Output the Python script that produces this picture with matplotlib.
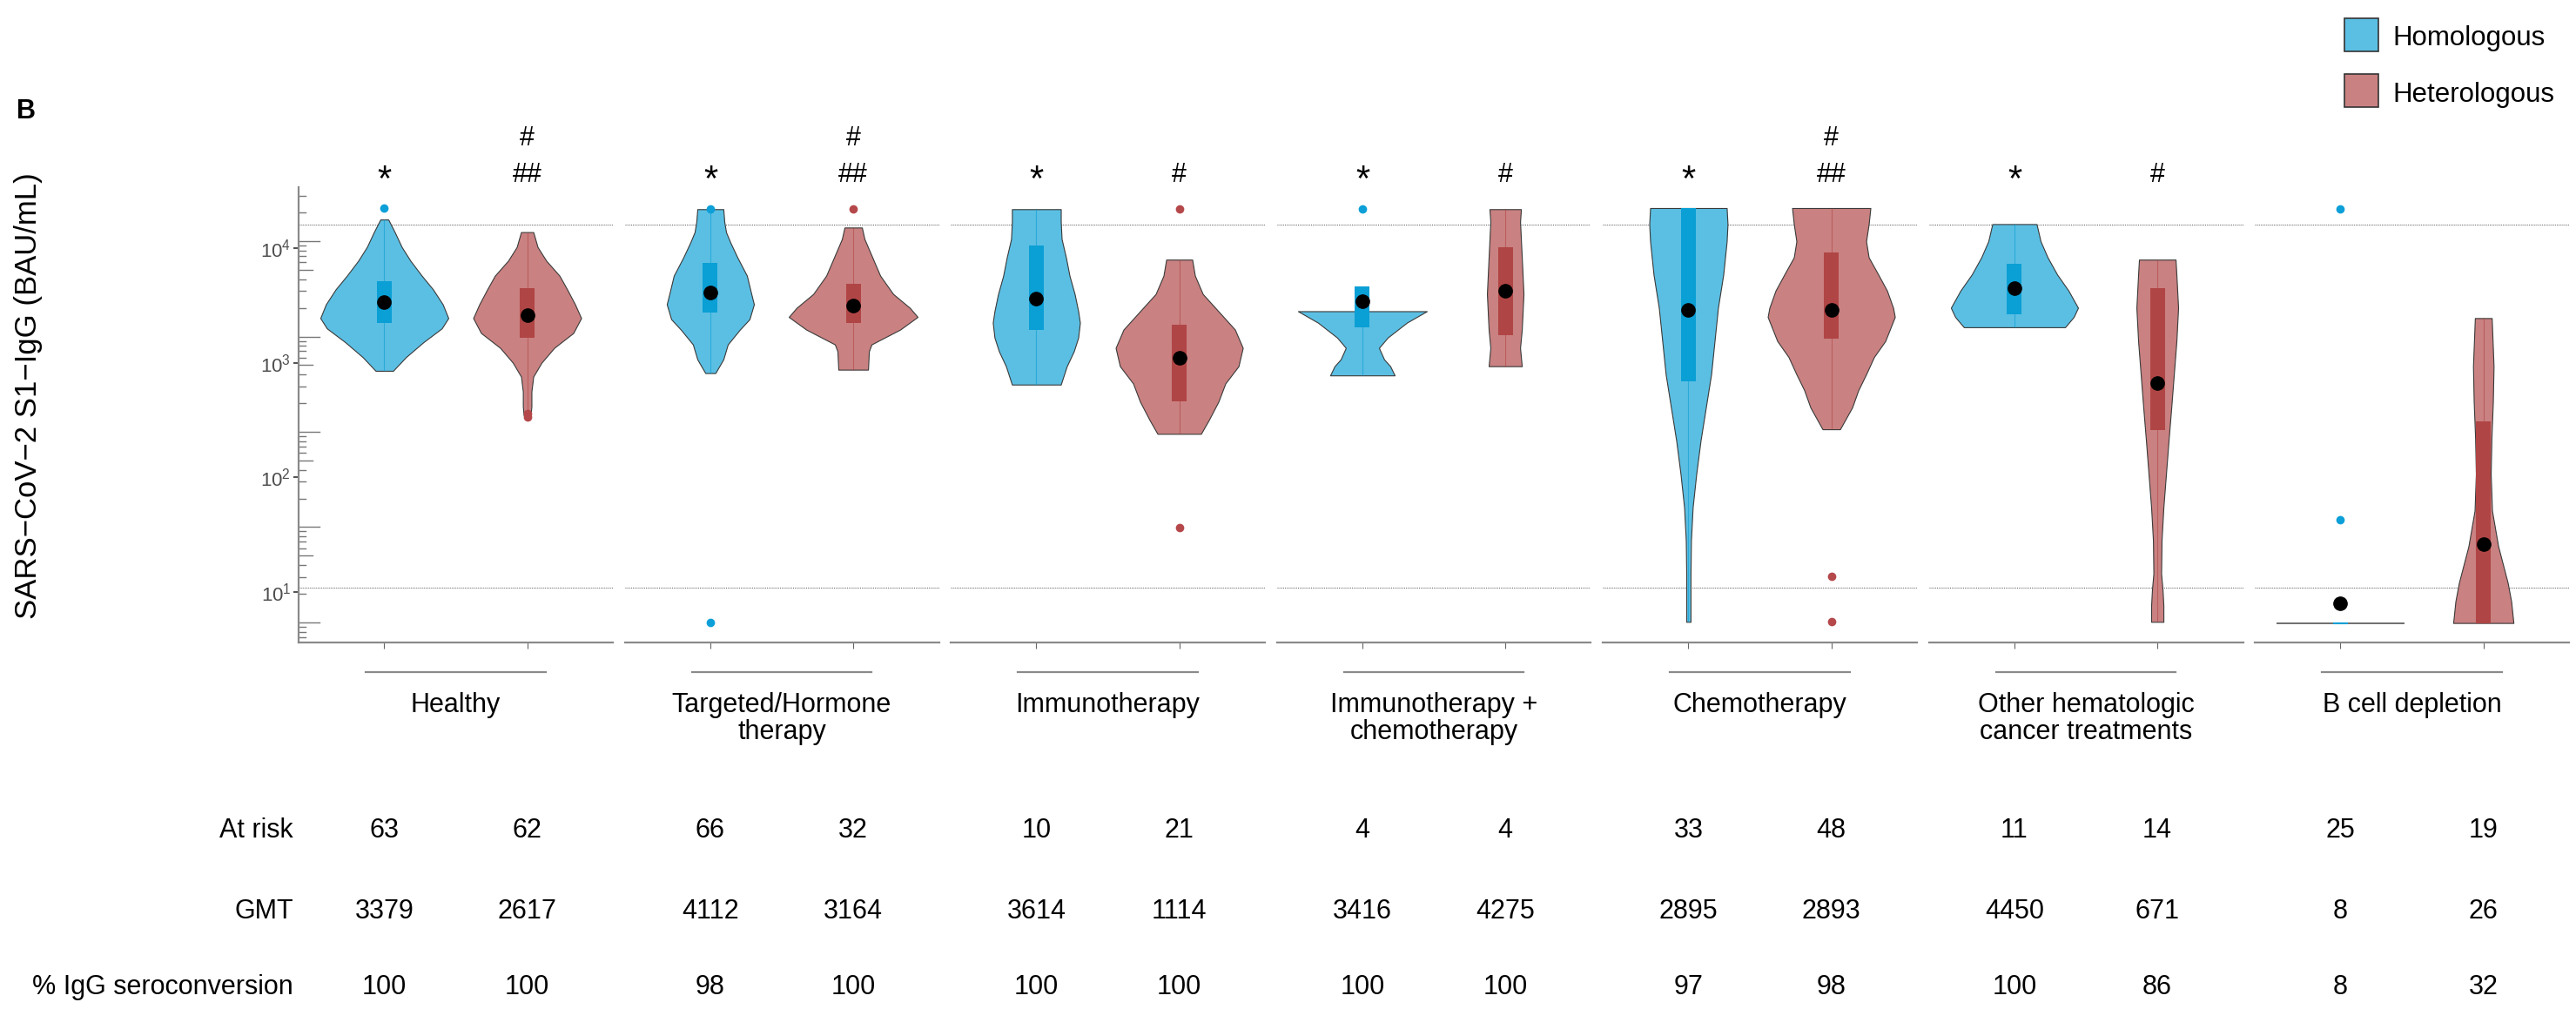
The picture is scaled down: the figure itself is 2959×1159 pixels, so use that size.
import matplotlib.pyplot as plt
import numpy as np
from matplotlib.patches import Rectangle
from matplotlib.transforms import blended_transform_factory

plt.rcParams['font.family'] = ['Liberation Sans', 'DejaVu Sans']

# ---- data ----
groups = ['Healthy', 'Targeted/Hormone\ntherapy', 'Immunotherapy',
          'Immunotherapy +\nchemotherapy', 'Chemotherapy',
          'Other hematologic\ncancer treatments', 'B cell depletion']

at_risk_homo = [63, 66, 10, 4, 33, 11, 25]
at_risk_hetero = [62, 32, 21, 4, 48, 14, 19]
gmt_homo = [3379, 4112, 3614, 3416, 2895, 4450, 8]
gmt_hetero = [2617, 3164, 1114, 4275, 2893, 671, 26]
sero_homo = [100, 98, 100, 100, 97, 100, 8]
sero_hetero = [100, 100, 100, 100, 98, 86, 32]

sig_homo = ['*', '*', '*', '*', '*', '*', '']
sig_hetero_low = ['##', '##', '#', '#', '##', '#', '']
sig_hetero_high = ['#', '#', '', '', '#', '', '']

# violin outlines: log10(BAU/mL) levels and half widths (x units)
homo_levels = [
    [4.25, 4.14, 4.01, 3.89, 3.76, 3.64, 3.51, 3.39, 3.30, 3.18, 3.05, 2.93],
    [4.34, 4.23, 4.14, 4.05, 3.92, 3.76, 3.60, 3.51, 3.38, 3.29, 3.16, 3.03, 2.91],
    [4.34, 4.23, 4.08, 3.92, 3.76, 3.60, 3.45, 3.35, 3.22, 3.10, 2.97, 2.81],
    [3.45, 3.35, 3.22, 3.13, 3.03, 2.97, 2.89],
    [4.35, 4.21, 4.06, 3.77, 3.48, 3.19, 2.90, 2.61, 2.32, 2.03, 1.74, 1.45, 1.16, 0.74],
    [4.21, 4.06, 3.92, 3.77, 3.63, 3.48, 3.40, 3.31],
    [0.73],
]
homo_widths = [
    [0.028, 0.073, 0.122, 0.183, 0.262, 0.341, 0.409, 0.448, 0.402, 0.274, 0.152, 0.061],
    [0.091, 0.098, 0.110, 0.140, 0.189, 0.256, 0.287, 0.305, 0.274, 0.207, 0.122, 0.091, 0.035],
    [0.171, 0.171, 0.177, 0.207, 0.232, 0.268, 0.293, 0.305, 0.293, 0.262, 0.213, 0.171],
    [0.451, 0.311, 0.177, 0.116, 0.152, 0.195, 0.226],
    [0.268, 0.274, 0.268, 0.244, 0.207, 0.183, 0.159, 0.122, 0.085, 0.055, 0.030, 0.018, 0.015, 0.015],
    [0.155, 0.183, 0.232, 0.299, 0.378, 0.445, 0.415, 0.354],
    [0.449],
]
hetero_levels = [
    [4.14, 4.01, 3.89, 3.76, 3.64, 3.51, 3.39, 3.26, 3.13, 3.00, 2.88, 2.75, 2.62, 2.54],
    [4.18, 4.08, 3.92, 3.76, 3.60, 3.48, 3.40, 3.29, 3.16, 3.10, 2.94],
    [3.90, 3.76, 3.60, 3.45, 3.29, 3.13, 2.97, 2.82, 2.66, 2.50, 2.38],
    [4.34, 4.23, 3.92, 3.60, 3.29, 3.13, 2.97],
    [4.35, 4.21, 4.06, 3.92, 3.77, 3.63, 3.48, 3.40, 3.19, 3.05, 2.90, 2.76, 2.61, 2.42],
    [3.90, 3.77, 3.48, 3.19, 2.90, 2.61, 2.32, 2.03, 1.74, 1.45, 1.16, 1.02, 0.88, 0.74],
    [3.39, 2.97, 2.66, 2.34, 2.03, 1.71, 1.40, 1.08, 0.92, 0.73],
]
hetero_widths = [
    [0.043, 0.073, 0.134, 0.226, 0.280, 0.335, 0.378, 0.323, 0.189, 0.100, 0.043, 0.030, 0.030, 0.024],
    [0.061, 0.079, 0.134, 0.189, 0.280, 0.396, 0.451, 0.329, 0.128, 0.110, 0.104],
    [0.091, 0.110, 0.165, 0.274, 0.390, 0.445, 0.415, 0.323, 0.274, 0.207, 0.152],
    [0.110, 0.104, 0.116, 0.128, 0.116, 0.104, 0.116],
    [0.274, 0.262, 0.244, 0.262, 0.329, 0.390, 0.433, 0.445, 0.378, 0.299, 0.244, 0.189, 0.146, 0.061],
    [0.128, 0.134, 0.146, 0.134, 0.116, 0.098, 0.079, 0.061, 0.043, 0.030, 0.027, 0.037, 0.043, 0.043],
    [0.059, 0.072, 0.067, 0.057, 0.052, 0.061, 0.104, 0.171, 0.195, 0.211],
]

# interquartile boxes (log10)
q1_homo = [3.35, 3.44, 3.29, 3.31, 2.84, 3.42, 0.73]
q3_homo = [3.71, 3.87, 4.02, 3.67, 4.35, 3.86, 0.73]
q1_hetero = [3.22, 3.35, 2.66, 3.24, 3.21, 2.41, 0.73]
q3_hetero = [3.65, 3.69, 3.33, 4.01, 3.96, 3.65, 2.49]

# outlying points (log10)
out_homo = [[4.35], [4.34, 0.735], [], [4.34], [], [], [4.34, 1.63]]
out_hetero = [[2.56, 2.53], [4.34], [4.34, 1.56], [], [1.14, 0.74], [], []]

upper_limit = 16000
lower_limit = 11

blue_fill, blue_box, blue_pt = '#5BBFE3', '#0A9FD5', '#0C9FD8'
red_fill, red_box, red_pt = '#CA8181', '#B04545', '#B5484A'

W, H = 2959, 1159
fig = plt.figure(figsize=(W / 100, H / 100), dpi=100)


def violin(ax, x, levels, widths, fill, box, pt, q1, q3, gmt, outs):
    lv = 10 ** np.array(levels)
    wd = np.array(widths)
    if len(levels) == 1:
        ax.hlines(lv[0], x - wd[0], x + wd[0], color='#555555', lw=1.2, zorder=2)
        ax.hlines(lv[0], x - 0.052, x + 0.052, color=box, lw=1.5, zorder=3)
    else:
        ax.fill_betweenx(lv, x - wd, x + wd, facecolor=fill, edgecolor='#3a3a3a',
                         lw=0.8, zorder=2)
        lo = min(levels[-1], q1)
        hi = max(levels[0], q3)
        ax.vlines(x, 10 ** lo, 10 ** hi, color=box, lw=0.8, alpha=0.6, zorder=3)
        ax.bar(x, 10 ** q3 - 10 ** q1, bottom=10 ** q1, width=0.104, color=box,
               zorder=3)
    for o in outs:
        ax.plot(x, 10 ** o, 'o', color=pt, ms=7, mec='none', zorder=4)
    ax.plot(x, gmt, 'o', color='black', ms=11, zorder=5)


axes = []
for i in range(7):
    left = (343 + i * 374.5) / W
    ax = fig.add_axes([left, (H - 738) / H, 361 / W, 523 / H])
    axes.append(ax)
    ax.set_yscale('log')
    ax.set_ylim(10 ** 0.56, 10 ** 4.532)
    ax.set_xlim(0.4, 2.6)
    for s in ['top', 'right']:
        ax.spines[s].set_visible(False)
    ax.spines['bottom'].set_color('#8a8a8a')
    ax.spines['bottom'].set_linewidth(1.6)
    ax.spines['left'].set_color('#8a8a8a')
    ax.spines['left'].set_linewidth(1.6)
    ax.set_xticks([1, 2])
    ax.set_xticklabels([])
    ax.tick_params(axis='x', direction='out', length=5, width=0.8, color='#666666')
    ax.yaxis.set_minor_locator(plt.NullLocator())
    if i == 0:
        ax.set_yticks([10, 100, 1000, 10000])
        ax.set_yticklabels([r'$\mathregular{10^{%d}}$' % k for k in range(1, 5)],
                           fontsize=16, color='#4d4d4d')
        ax.tick_params(axis='y', direction='out', length=4.3, width=1.2,
                       color='#333333', pad=2)
    else:
        ax.spines['left'].set_visible(False)
        ax.tick_params(axis='y', left=False, labelleft=False)

    ax.axhline(upper_limit, color='#555555', ls=(0, (1, 1.2)), lw=0.7, zorder=1)
    ax.axhline(lower_limit, color='#555555', ls=(0, (1, 1.2)), lw=0.7, zorder=1)

    violin(ax, 1, homo_levels[i], homo_widths[i], blue_fill, blue_box, blue_pt,
           q1_homo[i], q3_homo[i], gmt_homo[i], out_homo[i])
    violin(ax, 2, hetero_levels[i], hetero_widths[i], red_fill, red_box, red_pt,
           q1_hetero[i], q3_hetero[i], gmt_hetero[i], out_hetero[i])

    tr = blended_transform_factory(ax.transData, ax.transAxes)
    ax.text(1, 0.992, sig_homo[i], transform=tr, ha='center', va='baseline',
            fontsize=30, clip_on=False)
    ax.text(2, 1.0115, sig_hetero_low[i], transform=tr, ha='center', va='baseline',
            fontsize=22, clip_on=False)
    ax.text(2, 1.0927, sig_hetero_high[i], transform=tr, ha='center', va='baseline',
            fontsize=22, clip_on=False)

    ax.plot([0.87, 2.13], [-0.065, -0.065], transform=tr, color='#8a8a8a', lw=1.6,
            clip_on=False)
    ax.text(1.5, -0.109, groups[i], transform=tr, ha='center', va='top', fontsize=22,
            linespacing=1.05)

    ft = blended_transform_factory(ax.transData, fig.transFigure)
    for yv, a, b in [(0.170, at_risk_homo[i], at_risk_hetero[i]),
                     (0.0897, gmt_homo[i], gmt_hetero[i]),
                     (0.0147, sero_homo[i], sero_hetero[i])]:
        ax.text(1, yv, str(a), transform=ft, ha='center', va='baseline', fontsize=22)
        ax.text(2, yv, str(b), transform=ft, ha='center', va='baseline', fontsize=22)

# log ticks drawn inside the first panel
ax = axes[0]
tr = blended_transform_factory(ax.transAxes, ax.transData)
logtick_start, logtick_step = 0.735, 0.8315
for k in range(-1, 6):
    for m in range(1, 10):
        t = logtick_start + logtick_step * (k + np.log10(m))
        if 0.56 < t < 4.53:
            ln = 0.0665 if m == 1 else (0.0443 if m == 5 else 0.0222)
            ax.plot([0, ln], [10 ** t, 10 ** t], transform=tr, color='#777777',
                    lw=1.0, clip_on=False)

# table row labels
for yv, lab in [(0.170, 'At risk'), (0.0897, 'GMT'), (0.0147, '% IgG seroconversion')]:
    fig.text(337 / W, yv, lab, ha='right', va='baseline', fontsize=22)

fig.text(33 / W, 1 - 455 / H, 'SARS\u2212CoV\u22122 S1\u2212IgG (BAU/mL)', rotation=90,
         ha='center', va='center', fontsize=25)
fig.text(30 / W, 1 - 136 / H, 'B', ha='center', va='baseline', fontsize=22,
         fontweight='bold')

# legend
for y0, col, lab, yb in [(1 - 59 / H, blue_fill, 'Homologous', 1 - 52 / H),
                         (1 - 123 / H, red_fill, 'Heterologous', 1 - 117 / H)]:
    fig.add_artist(Rectangle((2693 / W, y0), 39 / W, 38 / H, facecolor=col,
                             edgecolor='#333333', lw=1.2, transform=fig.transFigure))
    fig.text(2748 / W, yb, lab, ha='left', va='baseline', fontsize=22.5)

fig.savefig('out.png', dpi=100)
